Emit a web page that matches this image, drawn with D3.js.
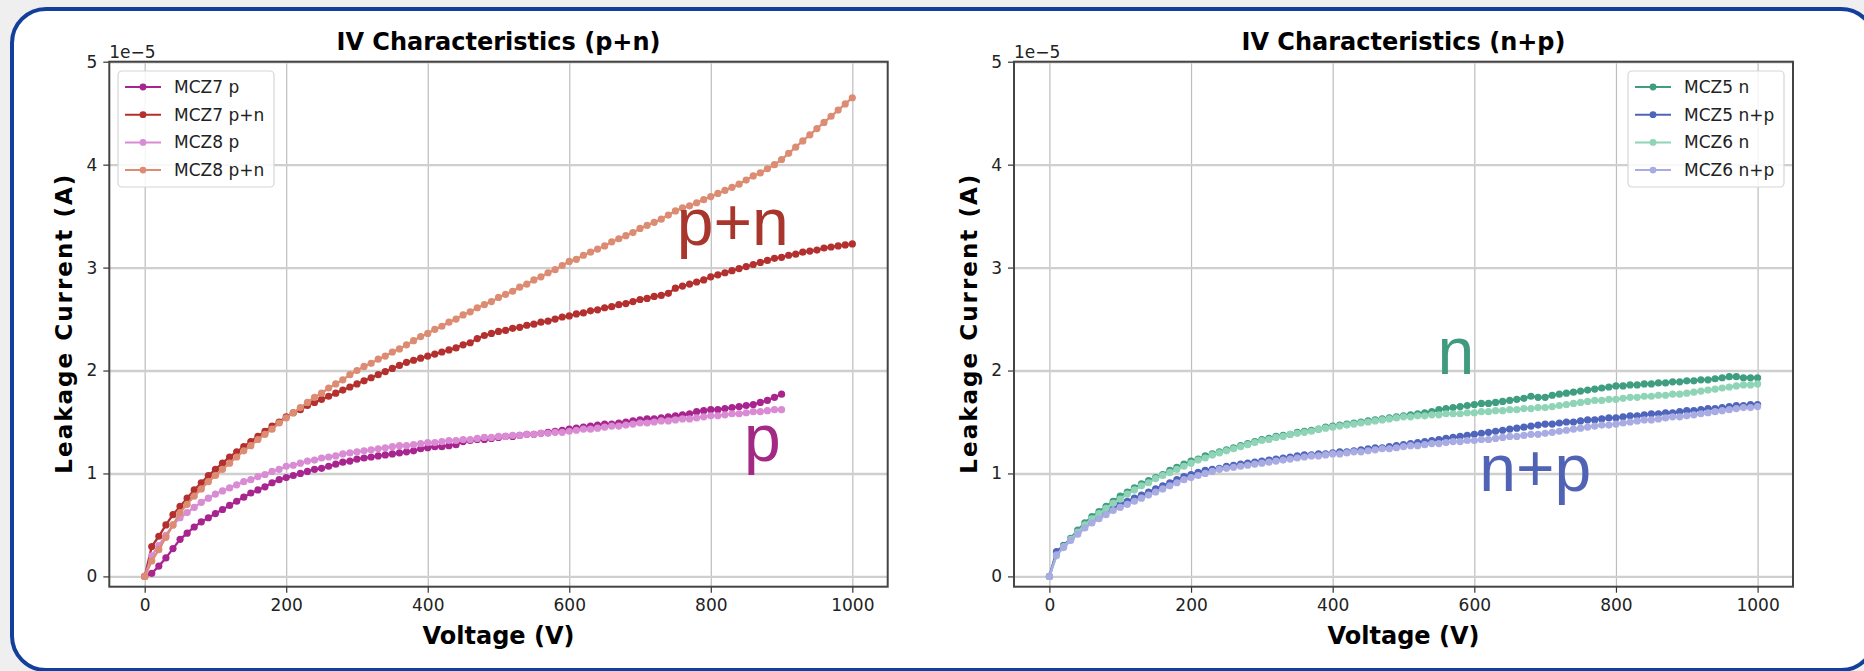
<!DOCTYPE html>
<html>
<head>
<meta charset="utf-8">
<script src="https://cdn.jsdelivr.net/npm/d3@7"></script>
<style>
  body { margin: 0; background: #efefef; }
  svg text { font-family: "DejaVu Sans", sans-serif; }
</style>
</head>
<body>
<svg id="chart" width="1864" height="671"></svg>
<script>
// voltage steps (V), currents in units of 1e-5 A
const voltages = [
  0,10,20,30,40,50,60,70,80,90,
  100,110,120,130,140,150,160,170,180,190,
  200,210,220,230,240,250,260,270,280,290,
  300,310,320,330,340,350,360,370,380,390,
  400,410,420,430,440,450,460,470,480,490,
  500,510,520,530,540,550,560,570,580,590,
  600,610,620,630,640,650,660,670,680,690,
  700,710,720,730,740,750,760,770,780,790,
  800,810,820,830,840,850,860,870,880,890,
  900,910,920,930,940,950,960,970,980,990,
  1000
];

const mcz7p = [
  0,0.03,0.10,0.18,0.27,0.36,0.42,0.48,0.53,0.57,
  0.61,0.65,0.69,0.73,0.77,0.81,0.84,0.87,0.91,0.94,
  0.96,0.98,1.00,1.02,1.04,1.05,1.07,1.09,1.11,1.12,
  1.14,1.15,1.16,1.17,1.18,1.19,1.20,1.21,1.22,1.24,
  1.25,1.26,1.26,1.27,1.28,1.31,1.32,1.33,1.33,1.34,
  1.35,1.36,1.36,1.37,1.38,1.38,1.39,1.40,1.41,1.42,
  1.43,1.44,1.45,1.46,1.47,1.48,1.48,1.49,1.50,1.51,
  1.52,1.53,1.53,1.54,1.55,1.56,1.57,1.58,1.60,1.61,
  1.62,1.62,1.63,1.64,1.65,1.66,1.67,1.69,1.71,1.74,
  1.77
];
const mcz7pn = [
  0,0.29,0.39,0.50,0.60,0.68,0.76,0.84,0.91,0.98,
  1.04,1.10,1.16,1.21,1.26,1.31,1.36,1.41,1.46,1.50,
  1.55,1.59,1.62,1.66,1.69,1.72,1.75,1.78,1.81,1.84,
  1.87,1.90,1.93,1.96,1.99,2.02,2.05,2.08,2.10,2.12,
  2.14,2.16,2.18,2.20,2.22,2.25,2.27,2.31,2.34,2.36,
  2.38,2.39,2.41,2.42,2.44,2.45,2.47,2.48,2.50,2.52,
  2.53,2.55,2.56,2.58,2.59,2.61,2.62,2.64,2.65,2.67,
  2.69,2.70,2.72,2.73,2.75,2.80,2.82,2.84,2.86,2.88,
  2.91,2.93,2.95,2.97,2.99,3.01,3.03,3.05,3.07,3.09,
  3.10,3.12,3.13,3.15,3.16,3.17,3.19,3.20,3.21,3.22,
  3.23
];
const mcz8p = [
  0,0.20,0.30,0.40,0.50,0.57,0.62,0.67,0.72,0.76,
  0.80,0.83,0.86,0.89,0.92,0.94,0.97,0.99,1.02,1.04,
  1.07,1.08,1.10,1.12,1.13,1.15,1.16,1.17,1.19,1.20,
  1.21,1.22,1.23,1.24,1.25,1.26,1.27,1.27,1.28,1.29,
  1.30,1.30,1.31,1.32,1.32,1.33,1.33,1.34,1.35,1.35,
  1.36,1.36,1.37,1.37,1.38,1.38,1.39,1.39,1.40,1.40,
  1.41,1.42,1.43,1.43,1.44,1.45,1.46,1.46,1.47,1.48,
  1.49,1.49,1.50,1.51,1.51,1.52,1.53,1.53,1.54,1.55,
  1.56,1.56,1.57,1.58,1.58,1.59,1.60,1.60,1.61,1.62,
  1.62
];
const mcz8pn = [
  0,0.15,0.26,0.38,0.50,0.62,0.70,0.78,0.85,0.92,
  0.98,1.04,1.10,1.16,1.22,1.27,1.33,1.38,1.43,1.49,
  1.54,1.59,1.64,1.69,1.74,1.78,1.83,1.87,1.91,1.96,
  2.00,2.04,2.07,2.11,2.14,2.18,2.21,2.25,2.29,2.33,
  2.36,2.40,2.43,2.47,2.50,2.54,2.57,2.61,2.64,2.67,
  2.71,2.74,2.77,2.81,2.84,2.88,2.91,2.95,2.98,3.02,
  3.06,3.08,3.12,3.15,3.18,3.21,3.25,3.28,3.31,3.34,
  3.38,3.41,3.44,3.47,3.51,3.55,3.58,3.60,3.63,3.66,
  3.69,3.72,3.75,3.78,3.81,3.85,3.89,3.92,3.96,4.00,
  4.05,4.11,4.17,4.23,4.29,4.35,4.41,4.47,4.53,4.59,
  4.65
];

const mcz5n = [
  0,0.23,0.30,0.37,0.45,0.52,0.58,0.63,0.68,0.73,
  0.78,0.82,0.86,0.90,0.93,0.96,0.99,1.03,1.06,1.09,
  1.12,1.14,1.17,1.19,1.21,1.23,1.25,1.27,1.29,1.31,
  1.33,1.34,1.36,1.37,1.38,1.40,1.41,1.42,1.43,1.45,
  1.46,1.47,1.48,1.49,1.50,1.51,1.52,1.53,1.54,1.55,
  1.56,1.57,1.58,1.59,1.60,1.62,1.63,1.64,1.65,1.66,
  1.67,1.68,1.68,1.69,1.70,1.71,1.72,1.73,1.75,1.74,
  1.74,1.76,1.77,1.78,1.79,1.80,1.81,1.82,1.83,1.84,
  1.85,1.85,1.86,1.86,1.87,1.87,1.88,1.88,1.89,1.89,
  1.90,1.90,1.91,1.91,1.92,1.93,1.94,1.94,1.93,1.93,
  1.93
];
const mcz5np = [
  0,0.24,0.30,0.36,0.43,0.49,0.54,0.58,0.63,0.67,
  0.70,0.73,0.76,0.79,0.82,0.85,0.88,0.91,0.94,0.97,
  0.99,1.01,1.03,1.04,1.05,1.07,1.08,1.09,1.10,1.11,
  1.12,1.13,1.14,1.15,1.16,1.17,1.18,1.18,1.19,1.19,
  1.20,1.21,1.21,1.22,1.23,1.24,1.25,1.25,1.26,1.27,
  1.28,1.29,1.30,1.31,1.32,1.33,1.34,1.35,1.36,1.37,
  1.38,1.39,1.40,1.41,1.42,1.43,1.44,1.45,1.46,1.47,
  1.48,1.48,1.49,1.50,1.50,1.51,1.52,1.52,1.53,1.54,
  1.54,1.55,1.56,1.56,1.57,1.58,1.58,1.59,1.59,1.60,
  1.61,1.61,1.62,1.63,1.63,1.64,1.65,1.66,1.66,1.67,
  1.67
];
const mcz6n = [
  0,0.20,0.29,0.36,0.43,0.50,0.56,0.61,0.66,0.71,
  0.75,0.80,0.84,0.88,0.91,0.95,0.98,1.01,1.04,1.07,
  1.10,1.13,1.15,1.18,1.20,1.22,1.24,1.26,1.28,1.30,
  1.32,1.33,1.35,1.36,1.38,1.39,1.40,1.41,1.43,1.44,
  1.45,1.46,1.47,1.48,1.49,1.50,1.51,1.52,1.53,1.54,
  1.55,1.55,1.56,1.56,1.57,1.57,1.58,1.58,1.58,1.59,
  1.59,1.60,1.60,1.61,1.61,1.62,1.62,1.63,1.63,1.64,
  1.64,1.65,1.66,1.67,1.68,1.69,1.70,1.71,1.71,1.72,
  1.72,1.73,1.74,1.74,1.75,1.75,1.76,1.76,1.77,1.77,
  1.78,1.79,1.80,1.81,1.82,1.83,1.84,1.85,1.86,1.86,
  1.87
];
const mcz6np = [
  0,0.21,0.28,0.35,0.41,0.47,0.52,0.56,0.60,0.64,
  0.67,0.70,0.73,0.76,0.79,0.82,0.85,0.88,0.91,0.94,
  0.96,0.98,1.00,1.02,1.04,1.05,1.06,1.07,1.08,1.09,
  1.10,1.11,1.12,1.13,1.14,1.15,1.16,1.17,1.17,1.18,
  1.19,1.19,1.20,1.21,1.21,1.22,1.23,1.24,1.24,1.25,
  1.26,1.27,1.27,1.28,1.29,1.29,1.30,1.31,1.31,1.32,
  1.32,1.33,1.33,1.34,1.35,1.36,1.36,1.37,1.38,1.38,
  1.39,1.40,1.41,1.42,1.43,1.44,1.45,1.46,1.47,1.47,
  1.48,1.49,1.50,1.51,1.52,1.52,1.53,1.54,1.55,1.55,
  1.56,1.57,1.58,1.59,1.60,1.61,1.62,1.63,1.64,1.64,
  1.65
];

const xTicks = [0, 200, 400, 600, 800, 1000];
const yTicks = [0, 1, 2, 3, 4, 5];

const leftSeries = [
  { name: 'MCZ7 p', values: mcz7p, color: '#a8258f' },
  { name: 'MCZ7 p+n', values: mcz7pn, color: '#b3302f' },
  { name: 'MCZ8 p', values: mcz8p, color: '#d98bd3' },
  { name: 'MCZ8 p+n', values: mcz8pn, color: '#dc8c72' },
];
const rightSeries = [
  { name: 'MCZ5 n', values: mcz5n, color: '#3f9e80' },
  { name: 'MCZ5 n+p', values: mcz5np, color: '#4f65bb' },
  { name: 'MCZ6 n', values: mcz6n, color: '#8fd4b6' },
  { name: 'MCZ6 n+p', values: mcz6np, color: '#a8ace2' },
];

const leftNotes = [
  { text: 'p+n', v: 752, i: 3.22, color: '#a8362c' },
  { text: 'p', v: 847, i: 1.12, color: '#a22a84' },
];
const rightNotes = [
  { text: 'n', v: 548, i: 1.965, color: '#3f9a7e' },
  { text: 'n+p', v: 607, i: 0.83, color: '#5063b4' },
];

const svg = d3.select('#chart');

svg.append('rect')
  .attr('x', 12).attr('y', 9)
  .attr('width', 1863).attr('height', 661)
  .attr('rx', 34).attr('ry', 34)
  .attr('fill', '#fff')
  .attr('stroke', '#123f9b')
  .attr('stroke-width', 4);

const drawPanel = opts => {
  const { left, right, top, bottom } = opts;
  const x = d3.scaleLinear().domain([-50, 1050]).range([left, right]);
  const y = d3.scaleLinear().domain([-0.1, 5]).range([bottom, top]);
  const g = svg.append('g');

  // grid
  g.append('g')
    .attr('transform', `translate(0,${bottom})`)
    .call(d3.axisBottom(x).tickValues(xTicks).tickSize(-(bottom - top)).tickFormat(''))
    .call(a => a.select('.domain').remove())
    .call(a => a.selectAll('line').attr('stroke', '#bdbdbd').attr('stroke-width', 1.2));
  g.append('g')
    .attr('transform', `translate(${left},0)`)
    .call(d3.axisLeft(y).tickValues(yTicks).tickSize(-(right - left)).tickFormat(''))
    .call(a => a.select('.domain').remove())
    .call(a => a.selectAll('line').attr('stroke', '#cfcfcf').attr('stroke-width', 2.4));

  // series
  const line = d3.line().x(d => x(d[0])).y(d => y(d[1]));
  opts.series.forEach(s => {
    const pts = s.values.map((v, i) => [voltages[i], v]);
    g.append('path')
      .datum(pts)
      .attr('d', line)
      .attr('fill', 'none')
      .attr('stroke', s.color)
      .attr('stroke-width', 2.3);
    g.append('g')
      .selectAll('circle')
      .data(pts)
      .join('circle')
      .attr('cx', d => x(d[0]))
      .attr('cy', d => y(d[1]))
      .attr('r', 3.6)
      .attr('fill', s.color);
  });

  // annotations
  opts.notes.forEach(n => {
    g.append('text')
      .attr('x', x(n.v)).attr('y', y(n.i))
      .attr('fill', n.color)
      .style('font-family', '"Liberation Sans", Arial, sans-serif')
      .style('font-size', '66px')
      .text(n.text);
  });

  // axes
  const xAxis = g.append('g')
    .attr('transform', `translate(0,${bottom})`)
    .call(d3.axisBottom(x).tickValues(xTicks).tickSize(6).tickPadding(6).tickFormat(d3.format('d')));
  const yAxis = g.append('g')
    .attr('transform', `translate(${left},0)`)
    .call(d3.axisLeft(y).tickValues(yTicks).tickSize(6).tickPadding(6).tickFormat(d3.format('d')));
  [xAxis, yAxis].forEach(a => {
    a.select('.domain').remove();
    a.selectAll('line').attr('stroke', '#333').attr('stroke-width', 1.2);
    a.selectAll('text')
      .attr('fill', '#222')
      .style('font-family', '"DejaVu Sans", sans-serif')
      .style('font-size', '17px');
  });

  // frame
  g.append('rect')
    .attr('x', left).attr('y', top)
    .attr('width', right - left).attr('height', bottom - top)
    .attr('fill', 'none')
    .attr('stroke', '#444')
    .attr('stroke-width', 2);

  // offset text
  g.append('text')
    .attr('x', left).attr('y', top - 4)
    .attr('fill', '#222')
    .style('font-size', '17px')
    .text('1e\u22125');

  // titles
  g.append('text')
    .attr('x', (left + right) / 2).attr('y', 50)
    .attr('text-anchor', 'middle')
    .style('font-size', '24px').style('font-weight', 'bold')
    .text(opts.title);
  g.append('text')
    .attr('x', (left + right) / 2).attr('y', 644)
    .attr('text-anchor', 'middle')
    .style('font-size', '24px').style('font-weight', 'bold')
    .text('Voltage (V)');
  g.append('text')
    .attr('transform', `translate(${left - 37},${(top + bottom) / 2}) rotate(-90)`)
    .attr('text-anchor', 'middle')
    .attr('textLength', 299)
    .attr('lengthAdjust', 'spacing')
    .style('font-size', '23px').style('font-weight', 'bold')
    .text('Leakage Current (A)');

  // legend
  const lg = g.append('g').attr('transform', `translate(${opts.legendX},71)`);
  lg.append('rect')
    .attr('width', 156).attr('height', 116)
    .attr('rx', 4)
    .attr('fill', '#fff').attr('fill-opacity', 0.85)
    .attr('stroke', '#d6d6d6').attr('stroke-width', 1.2);
  opts.series.forEach((s, i) => {
    const row = lg.append('g').attr('transform', `translate(0,${16 + i * 27.7})`);
    row.append('line')
      .attr('x1', 7).attr('x2', 43)
      .attr('stroke', s.color).attr('stroke-width', 2);
    row.append('circle').attr('cx', 25).attr('r', 3.4).attr('fill', s.color);
    row.append('text')
      .attr('x', 56).attr('y', 6)
      .attr('fill', '#222')
      .style('font-size', '17px')
      .text(s.name);
  });
};

drawPanel({
  left: 109.3, right: 887.7, top: 61.7, bottom: 586.7,
  title: 'IV Characteristics (p+n)',
  series: leftSeries, notes: leftNotes, legendX: 118,
});
drawPanel({
  left: 1014, right: 1793, top: 61.7, bottom: 586.7,
  title: 'IV Characteristics (n+p)',
  series: rightSeries, notes: rightNotes, legendX: 1628,
});
</script>
</body>
</html>
